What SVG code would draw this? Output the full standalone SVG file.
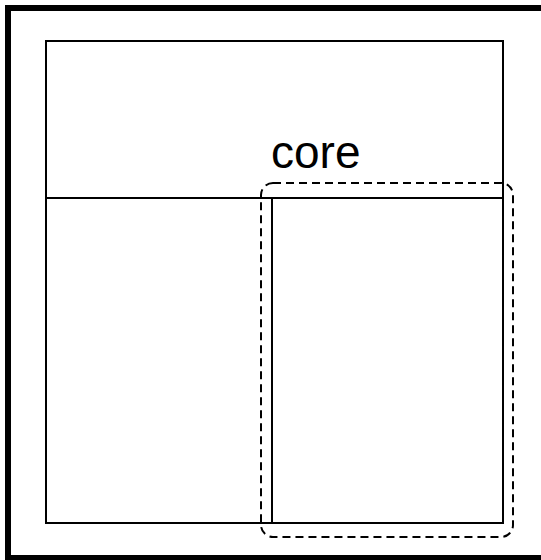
<svg xmlns="http://www.w3.org/2000/svg" width="541" height="560" viewBox="0 0 541 560">
<style>
.box{fill:none;stroke:#000;stroke-width:2}
.frame{fill:none;stroke:#000;stroke-width:6}
.dash{fill:none;stroke:#000;stroke-width:2;stroke-dasharray:8 5}
.lbl{font-family:"Liberation Sans",Arial,sans-serif;font-size:46px;fill:#000}
</style>
<rect width="541" height="560" fill="#fff"/>
<g id="frame"><rect class="frame" x="8" y="8" width="560" height="550"/></g>
<g id="outer"><rect class="box" x="46" y="41" width="457" height="482"/></g>
<g id="left"><rect class="box" x="46" y="198" width="226" height="325"/></g>
<g id="right"><rect class="box" x="272" y="198" width="231" height="325"/></g>
<g id="core">
<rect class="dash" x="261" y="183" width="252" height="354" rx="12" ry="12"/>
<text class="lbl" x="271" y="168">core</text>
</g>
</svg>
